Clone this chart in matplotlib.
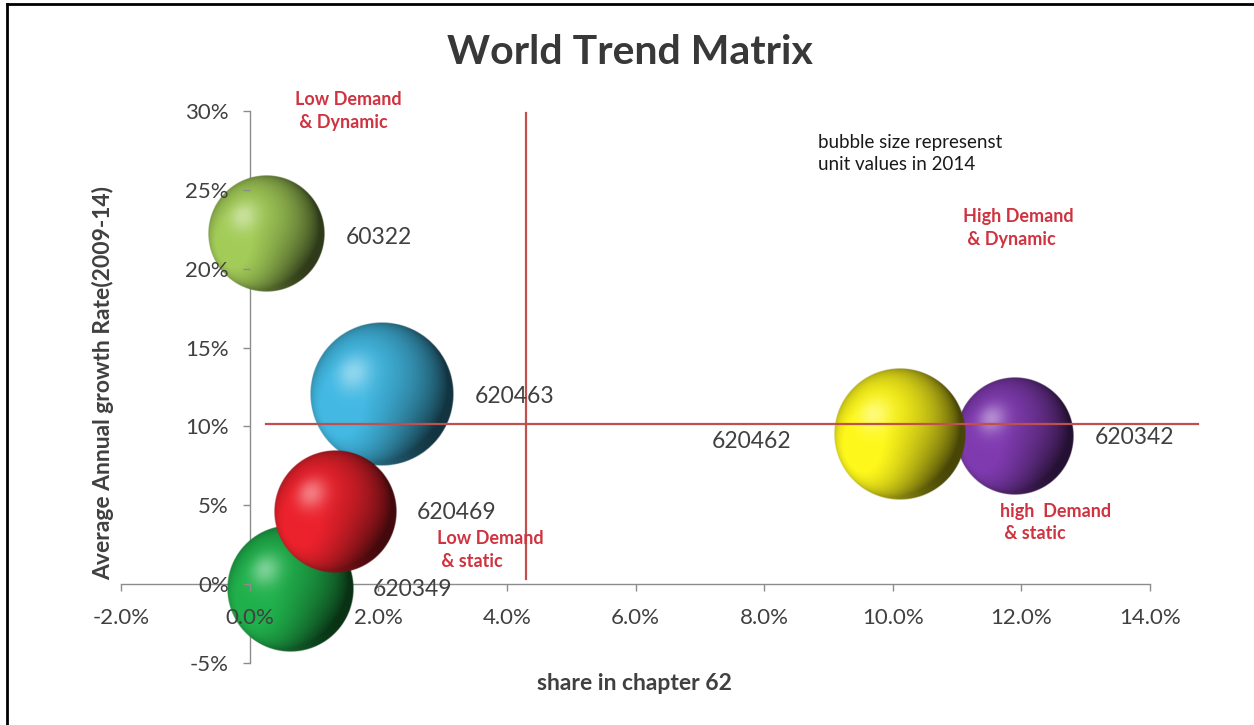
import numpy as np
import matplotlib.pyplot as plt
from matplotlib.colors import to_rgb
from matplotlib.lines import Line2D
from matplotlib.ticker import FuncFormatter

# bubble data: share in chapter 62 (%), average growth 2009-14 (%), unit value 2014
codes  = ['60322', '620463', '620349', '620469', '620342', '620462']
share  = [0.25, 2.05, 0.64, 1.33, 11.9, 10.1]
growth = [22.2, 12.0, -0.25, 4.6, 9.4, 9.5]
unit_v = [1.35, 2.05, 1.61, 1.49, 1.39, 1.72]
colors = ['#9bc254', '#3fb0d8', '#1fa848', '#e0202a', '#7a38a8', '#f2ec1a']
# label offsets in pixels from bubble centre
lab_off = [(80, -3), (93, -2), (82, -1), (82, -1), (80, -2), (-187, -7)]

xticks = np.arange(-2, 15, 2)
yticks = np.arange(-5, 31, 5)

plt.rcParams['font.family'] = ['Lato', 'DejaVu Sans']

W, H = 1254, 725
fig = plt.figure(figsize=(W/100, H/100), dpi=100)
ax = fig.add_axes([121/W, 62/H, 1029/W, 552/H])
ax.set_xlim(-2, 14)
ax.set_ylim(-5, 30)
ax.patch.set_alpha(0)

for s in ['top', 'right']:
    ax.spines[s].set_visible(False)
for s in ['left', 'bottom']:
    ax.spines[s].set_position(('data', 0))
    ax.spines[s].set_color('#8c8c8c')
    ax.spines[s].set_linewidth(1.0)
ax.set_xticks(xticks)
ax.set_yticks(yticks)
ax.xaxis.set_major_formatter(FuncFormatter(lambda v, p: '%.1f%%' % v))
ax.yaxis.set_major_formatter(FuncFormatter(lambda v, p: '%d%%' % v))
ax.tick_params(axis='x', direction='out', length=5, width=1, color='#8c8c8c',
               labelsize=16, labelcolor='#404040', pad=12)
ax.tick_params(axis='y', direction='out', length=5, width=1, color='#8c8c8c',
               labelsize=16, labelcolor='#404040', pad=10)
ax.xaxis.set_zorder(25)
ax.yaxis.set_zorder(25)


def sphere(base, n=260):
    t = np.linspace(-1, 1, n)
    u, v = np.meshgrid(t, t)
    r = np.sqrt(u**2 + v**2)
    z = np.sqrt(np.clip(1 - r**2, 0, 1))
    L = np.array([-0.4, 0.3, 0.87])
    L = L / np.linalg.norm(L)
    d = np.clip(u*L[0] + v*L[1] + z*L[2], 0, 1)
    R = np.array([-0.6, -0.8, 0.2])
    R = R / np.linalg.norm(R)
    rim = np.clip(u*R[0] + v*R[1] + z*R[2], 0, 1)**2 * 0.4
    b = np.array(to_rgb(base))
    shade = 0.3 + 0.75*d + rim
    col = b[None, None, :]*np.clip(shade, 0, 1.05)[..., None]
    spec = d**30 * 0.4
    col = col + (1 - col)*spec[..., None]
    col = np.clip(col, 0, 1)
    alpha = np.clip((1 - r)*n/2, 0, 1)
    return np.dstack([col, alpha])


inv = ax.transData.inverted()
for i in range(len(codes)):
    cx, cy = ax.transData.transform((share[i], growth[i]))
    rad = np.sqrt(unit_v[i])*100/2
    (x0, y0) = inv.transform((cx - rad, cy - rad))
    (x1, y1) = inv.transform((cx + rad, cy + rad))
    ax.imshow(sphere(colors[i]), extent=(x0, x1, y0, y1), origin='lower',
              aspect='auto', interpolation='bilinear', zorder=3 + i, clip_on=False)
    ax.annotate(codes[i], (share[i], growth[i]), xytext=lab_off[i],
                textcoords='offset pixels', ha='left', va='center',
                fontsize=16.5, color='#404040', zorder=20)
ax.set_xlim(-2, 14)
ax.set_ylim(-5, 30)

# quadrant divider lines
ax.plot([4.3, 4.3], [0.3, 29.9], color='#c0504d', lw=1.6, zorder=15, clip_on=False)
ax.plot([0.25, 14.75], [10.15, 10.15], color='#c0504d', lw=1.6, zorder=15, clip_on=False)

red = '#cf3340'
kw = dict(color=red, fontsize=13, fontweight='bold', ha='left', va='center',
          linespacing=1.4, zorder=21)
ax.text(0.71, 30.0, 'Low Demand\n & Dynamic', **kw)
ax.text(11.1, 22.6, 'High Demand\n & Dynamic', **kw)
ax.text(11.67, 3.9, 'high  Demand\n & static', **kw)
ax.text(2.92, 2.17, 'Low Demand\n & static', **kw)
ax.text(8.84, 27.3, 'bubble size represenst\nunit values in 2014', color='#1a1a1a',
        fontsize=13.5, ha='left', va='center', linespacing=1.35, zorder=21)

fig.text(630/W, 1 - 53/H, 'World Trend Matrix', fontsize=29.5, fontweight='bold',
         color='#383838', ha='center', va='center')
fig.text(103/W, 1 - 383/H, 'Average Annual growth Rate(2009-14)', fontsize=16.5,
         fontweight='bold', color='#404040', rotation=90, ha='center', va='center')
fig.text(634/W, 1 - 684/H, 'share in chapter 62', fontsize=16.5, fontweight='bold',
         color='#404040', ha='center', va='center')

# frame lines top and left
fig.add_artist(Line2D([7/W, 1], [1 - 4/H, 1 - 4/H], color='black', lw=2))
fig.add_artist(Line2D([7/W, 7/W], [0, 1 - 4/H], color='black', lw=2))

fig.savefig('out.png', dpi=100)
